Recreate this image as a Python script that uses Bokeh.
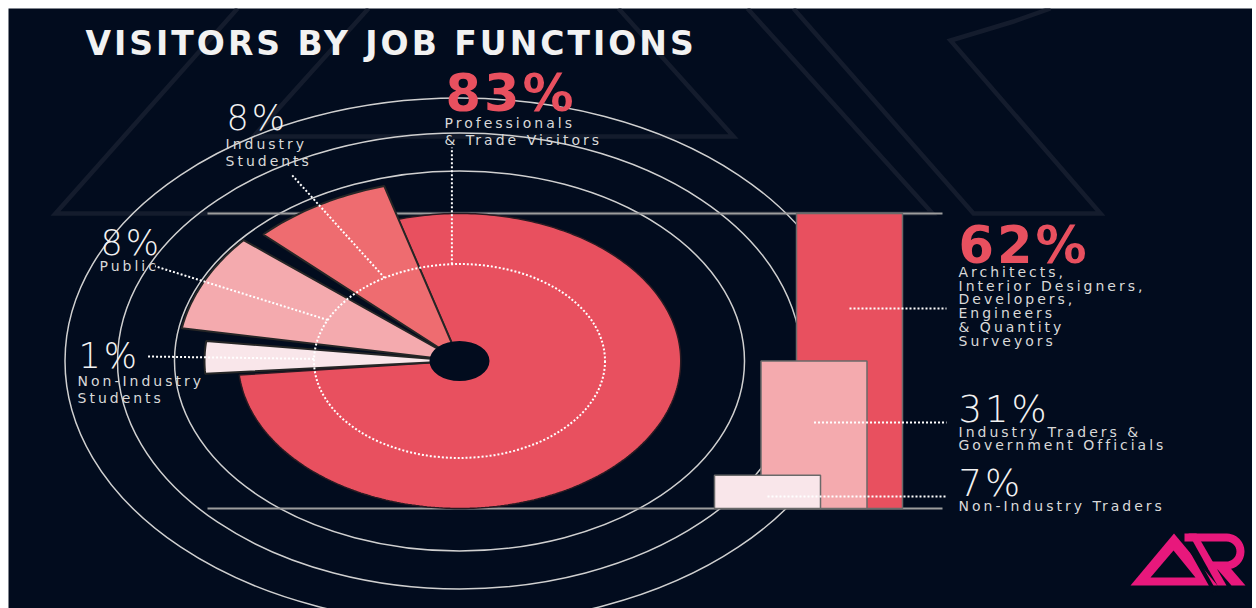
import math
from bokeh.plotting import figure
from bokeh.models import Range1d, InlineStyleSheet
from bokeh.embed import file_html
from bokeh.resources import INLINE
from bokeh.core.properties import value

# ---------------- data ----------------
TITLE = "VISITORS BY JOB FUNCTIONS"

rose_names = ["Professionals\n& Trade Visitors", "Industry\nStudents", "Public", "Non-Industry\nStudents"]
rose_pcts = [83, 8, 8, 1]

bar_names = ["Architects,\nInterior Designers,\nDevelopers,\nEngineers\n& Quantity\nSurveyors",
             "Industry Traders &\nGovernment Officials",
             "Non-Industry Traders"]
bar_pcts = [62, 31, 7]

# ---------------- style / layout ----------------
BG = "#020c1e"
RED = "#e8505f"
SALMON = "#ee6c70"
PINK = "#f4aaae"
PALE = "#f9e6ea"
LABEL = "#d9d9d9"
WHITE = "#f2f2f2"
WM = "#141c2d"
MAGENTA = "#e8187c"
rose_colors = [RED, SALMON, PINK, PALE]
bar_colors = [RED, PINK, PALE]

BODY_FONT = "DejaVu Sans"
THIN_FONT = "DejaVu Sans Light, Roboto Light, DejaVu Sans"
BASELINE_FIX = 0.33  # em, shifts text up so the anchor sits on the baseline

W, H = 1244, 600
X0, Y0 = 8, 8

# bar chart geometry (pixel positions in figure coords)
BASE_Y, TOP_Y = 508, 213
GUIDE_X0, GUIDE_X1 = 207, 942
bar_x = [849, 813.5, 767]
BAR_W = 106
LEADER_END_X = 946
bar_leader_y = [308, 422, 496]
bar_label_pos = [(958, 262), (958, 421), (958, 495)]
bar_sub_dy = [(14, 13.8), (15, 13.5), (15, 13.5)]

# rose geometry
CX = 459
CY = (TOP_Y + BASE_Y) / 2.0
XSTRETCH = 1.5
R_MAIN = (BASE_Y - TOP_Y) / 2.0
small_radii = [182, 188, 170]
R_HOLE = 20
R_DOT = 97
ring_radii = [190, 228, 263]
START_ANG = 106
ANG_PER_PCT = 2.71
MIN_ANG = 8.3
gaps = [4.0, 3.3, 1.2]
leader_r = [None, 218, 224, 208]
TOP_LEADER_ANG = 93
rose_label_pos = [(445, 110), (226, 129), (100, 254), (78, 367)]
rose_sub_dy = [(17, 17.5), (19, 17), (16, 17), (18, 17)]

ppp = (BASE_Y - TOP_Y) / max(bar_pcts)

p = figure(width=W, height=H, output_backend="svg", toolbar_location=None,
           x_range=Range1d(X0, X0 + W), y_range=Range1d(Y0 + H, Y0),
           x_axis_type=None, y_axis_type=None, min_border=0,
           background_fill_color=BG, border_fill_color=BG, outline_line_color=None)
p.margin = (Y0, 0, 0, X0)
p.grid.visible = False
p.extra_x_ranges = {"px": Range1d((X0 - CX) / XSTRETCH, (X0 + W - CX) / XSTRETCH)}
p.extra_y_ranges = {"py": Range1d(CY - (Y0 + H), CY - Y0),
                    "pct": Range1d(-((Y0 + H) - BASE_Y) / ppp, max(bar_pcts) + (TOP_Y - Y0) / ppp)}
p.stylesheets = [InlineStyleSheet(css=":host { letter-spacing: 3px; }")]

POL = dict(x_range_name="px", y_range_name="py")

# ---------------- watermark (background logo outline) ----------------
wm_x = [[237, 55, 932, 747],
        [368, 253, 733, 618],
        [793, 973, 1100, 950, 980, 1013, 1050]]
wm_y = [[8, 213, 213, 8],
        [8, 136, 136, 8],
        [8, 213, 213, 40, 31, 21, 8]]
p.multi_line(wm_x, wm_y, line_color=WM, line_width=4.5, line_join="miter")

# ---------------- rings ----------------
p.ellipse(x=[0] * 3, y=[0] * 3, width=[2 * r for r in ring_radii], height=[2 * r for r in ring_radii],
          fill_alpha=0, line_color="#d0d0d0", line_width=1.5, **POL)

# guide lines at 0 and max
p.segment(x0=[GUIDE_X0] * 2, x1=[GUIDE_X1] * 2, y0=[0, max(bar_pcts)], y1=[0, max(bar_pcts)],
          y_range_name="pct", line_color="#9d9d9d", line_width=2)


def arc(r, a0, a1):
    n = max(4, int(abs(a1 - a0)))
    th = [math.radians(a0 + (a1 - a0) * i / n) for i in range(n + 1)]
    return [r * math.cos(t) for t in th], [r * math.sin(t) for t in th]


# slice angles
spans = []
cur = START_ANG
for v, g in zip(rose_pcts[1:], gaps):
    w = MIN_ANG + ANG_PER_PCT * v
    spans.append((cur, cur + w))
    cur += w + g
red_span = (cur, START_ANG + 360)

# main slice
ax, ay = arc(R_MAIN, *red_span)
p.patch([0] + ax, [0] + ay, fill_color=rose_colors[0], line_color="#2a1a22", line_width=1.5, **POL)
# small slices
xs, ys = [], []
for (a0, a1), r in zip(spans, small_radii):
    ax, ay = arc(r, a0, a1)
    xs.append([0] + ax)
    ys.append([0] + ay)
p.patches(xs, ys, fill_color=rose_colors[1:], line_color="#262626", line_width=2, **POL)
# hole
p.ellipse(x=[0], y=[0], width=[2 * R_HOLE], height=[2 * R_HOLE], fill_color=BG, line_color=None, **POL)
# dotted ring
p.ellipse(x=[0], y=[0], width=[2 * R_DOT], height=[2 * R_DOT], fill_alpha=0,
          line_color="white", line_width=2, line_dash="2 2", **POL)

# rose leaders
lx0, ly0, lx1, ly1 = [], [], [], []
t = math.radians(TOP_LEADER_ANG)
lx0.append(R_DOT * math.cos(t)); ly0.append(R_DOT * math.sin(t))
lx1.append(R_DOT * math.cos(t)); ly1.append(CY - 147)
for (a0, a1), r in zip(spans, leader_r[1:]):
    t = math.radians((a0 + a1) / 2)
    lx0.append(R_DOT * math.cos(t)); ly0.append(R_DOT * math.sin(t))
    lx1.append(r * math.cos(t)); ly1.append(r * math.sin(t))
p.segment(lx0, ly0, lx1, ly1, line_color="white", line_width=2, line_dash="2 2", **POL)

# ---------------- bars ----------------
p.vbar(x=bar_x, width=BAR_W, bottom=0, top=bar_pcts, y_range_name="pct",
       fill_color=bar_colors, line_color="#6a6a6a", line_width=1.5)
p.segment(x0=bar_x, x1=[LEADER_END_X] * 3, y0=bar_leader_y, y1=bar_leader_y,
          line_color="white", line_width=2, line_dash="2 2")


# ---------------- text ----------------
def txt(x, y, s, size, color, font=BODY_FONT, bold=False):
    px = float(size.replace("px", ""))
    p.text(x=[x], y=[y - BASELINE_FIX * px], text=[s], text_font=value(font), text_font_size=size,
           text_font_style="bold" if bold else "normal", text_color=color,
           text_baseline="alphabetic", text_align="left")


txt(85, 54, TITLE, "33px", WHITE, bold=True)

for i, (name, v) in enumerate(zip(rose_names, rose_pcts)):
    x, y = rose_label_pos[i]
    if i == 0:
        txt(x, y, f"{v}%", "51px", RED, bold=True)
    else:
        txt(x, y, f"{v}%", "35px", WHITE, font=THIN_FONT)
    d0, dl = rose_sub_dy[i]
    for j, line in enumerate(name.split("\n")):
        txt(x - 1, y + d0 + j * dl, line, "14px", LABEL)

for i, (name, v) in enumerate(zip(bar_names, bar_pcts)):
    x, y = bar_label_pos[i]
    if i == 0:
        txt(x, y, f"{v}%", "51px", RED, bold=True)
    else:
        txt(x, y, f"{v}%", "37px", WHITE, font=THIN_FONT)
    d0, dl = bar_sub_dy[i]
    for j, line in enumerate(name.split("\n")):
        txt(x, y + d0 + j * dl, line, "14px", LABEL)

# ---------------- logo ----------------
p.patch([1130, 1173.5, 1217], [585, 533, 585], fill_color=MAGENTA, line_color=None)
p.patch([1150, 1173, 1195], [577, 550, 577], fill_color=BG, line_color=None)
p.line([1183, 1214], [536, 591], line_color=BG, line_width=4)
arc_t = [math.pi * i / 16 for i in range(17)]
p.line([1184] + [1226 + 14 * math.sin(a) for a in arc_t] + [1208],
       [537] + [551 - 14 * math.cos(a) for a in arc_t] + [565],
       line_color=MAGENTA, line_width=8)
p.patch([1188, 1196, 1226, 1217], [533, 533, 585, 585], fill_color=MAGENTA, line_color=None)
p.patch([1212, 1226, 1245, 1231], [563, 563, 585, 585], fill_color=MAGENTA, line_color=None)

open("out.html", "w").write(file_html(p, INLINE))
